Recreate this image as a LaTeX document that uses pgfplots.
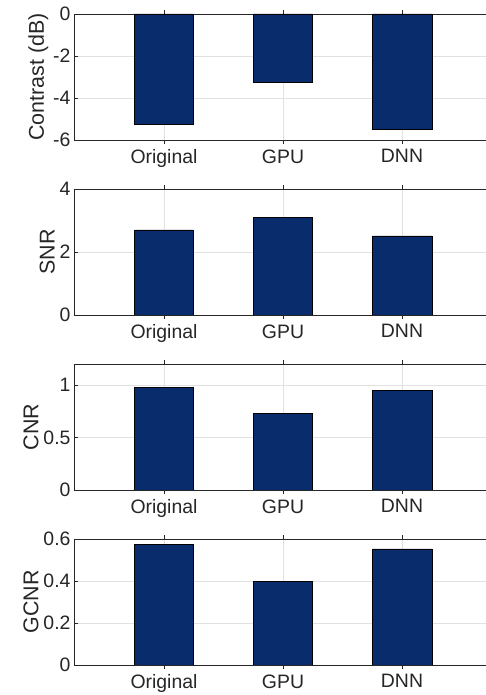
\documentclass[border=0pt]{standalone}
\usepackage{fontspec}
\setmainfont{Liberation Sans}
\usepackage{pgfplots}
\pgfplotsset{compat=1.18}
\definecolor{barblue}{RGB}{8,44,108}
\definecolor{axgray}{RGB}{38,38,38}
\definecolor{gridgray}{RGB}{225,225,225}
\pgfplotsset{
  mystyle/.style={
    scale only axis,
    width=420bp, height=126bp,
    anchor=south west,
    xmin=0.244, xmax=3.773,
    xtick={1,2,3},
    xticklabels={Original,GPU,DNN},
    tick align=inside,
    tick pos=both,
    major tick length=4bp,
    grid=major,
    major grid style={gridgray, line width=0.5bp},
    axis line style={axgray, line width=0.6bp},
    every tick/.style={axgray, line width=0.5bp},
    tick label style={font=\fontsize{19.5}{23}\selectfont, text=axgray},
    label style={font=\fontsize{21.5}{25}\selectfont, text=axgray},
    /pgf/number format/assume math mode=true,
    xticklabel style={yshift=-2bp},
    ylabel style={yshift=-2bp},
    ybar, bar width=0.5,
  },
  mybar/.style={fill=barblue, draw=black, line width=0.5bp},
}
\begin{document}
\begin{tikzpicture}
\useasboundingbox (0,0) rectangle (486bp,695bp);
\begin{axis}[mystyle, at={(74bp,555bp)}, ymin=-6, ymax=0, ytick={-6,-4,-2,0}, ylabel={Contrast (dB)}]
\addplot[mybar] coordinates {(1,-5.24) (2,-3.25) (3,-5.49)};
\end{axis}
\begin{axis}[mystyle, at={(74bp,380bp)}, ymin=0, ymax=4, ytick={0,2,4}, ylabel={SNR}]
\addplot[mybar] coordinates {(1,2.70) (2,3.09) (3,2.51)};
\end{axis}
\begin{axis}[mystyle, at={(74bp,205bp)}, ymin=0, ymax=1.2, ytick={0,0.5,1}, ylabel={CNR}]
\addplot[mybar] coordinates {(1,0.98) (2,0.73) (3,0.95)};
\end{axis}
\begin{axis}[mystyle, at={(74bp,30bp)}, ymin=0, ymax=0.6, ytick={0,0.2,0.4,0.6}, yticklabels={0,0.2,0.4,0.6}, ylabel={GCNR}]
\addplot[mybar] coordinates {(1,0.575) (2,0.397) (3,0.553)};
\end{axis}
\end{tikzpicture}
\end{document}
